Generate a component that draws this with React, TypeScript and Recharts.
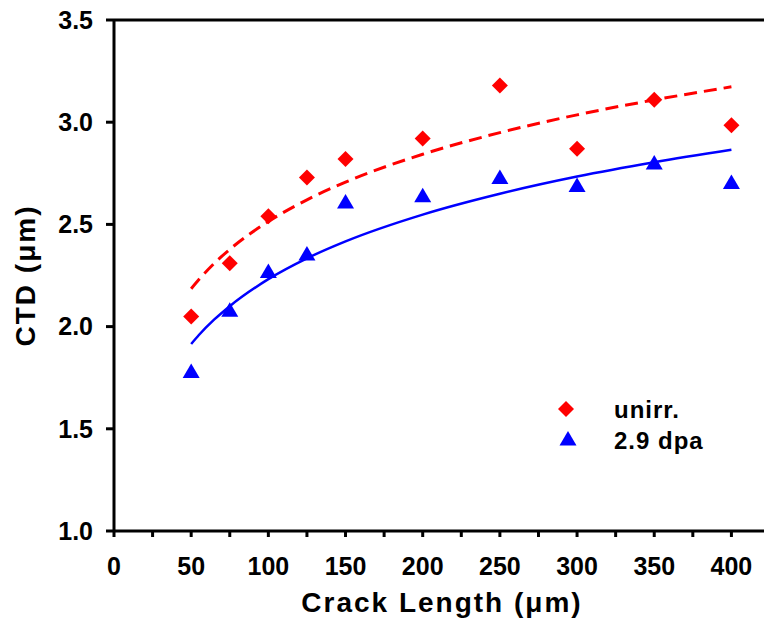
import React from 'react';
import {
  ComposedChart,
  XAxis,
  YAxis,
  Scatter,
  Line,
  ReferenceLine,
  Legend,
} from 'recharts';

// Measured points
const crackLength = [50, 75, 100, 125, 150, 200, 250, 300, 350, 400];
const ctdUnirr = [2.05, 2.31, 2.54, 2.73, 2.82, 2.92, 3.18, 2.87, 3.11, 2.985];
const ctdIrr = [1.78, 2.08, 2.27, 2.355, 2.61, 2.64, 2.73, 2.69, 2.8, 2.705];

// Fit curves
const fitX = [50, 55, 65, 75, 100, 125, 150, 200, 250, 300, 350, 400];
const fitUnirr = [2.185, 2.23, 2.31, 2.378, 2.514, 2.62, 2.707, 2.843, 2.949, 3.036, 3.109, 3.173];
const fitIrr = [1.915, 1.959, 2.035, 2.1, 2.232, 2.334, 2.417, 2.548, 2.65, 2.734, 2.804, 2.865];

const xTicks = [0, 25, 50, 75, 100, 125, 150, 175, 200, 225, 250, 275, 300, 325, 350, 375, 400];
const yTicks = [1.0, 1.5, 2.0, 2.5, 3.0, 3.5];

const seriesNames = ['unirr.', '2.9 dpa'];
const xTitle = 'Crack Length (\u03bcm)';
const yTitle = 'CTD (\u03bcm)';

const RED = '#ff0000';
const BLUE = '#0000ff';
const FONT = '"Liberation Sans", Arial, Helvetica, sans-serif';

const unirrData = crackLength.map((x, i) => ({ x, y: ctdUnirr[i] }));
const irrData = crackLength.map((x, i) => ({ x, y: ctdIrr[i] }));
const fitUnirrData = fitX.map((x, i) => ({ x, y: fitUnirr[i] }));
const fitIrrData = fitX.map((x, i) => ({ x, y: fitIrr[i] }));

const Diamond = (props: any) => {
  const { cx, cy } = props;
  const r = 8;
  return (
    <path
      d={`M${cx},${cy - r}L${cx + r},${cy}L${cx},${cy + r}L${cx - r},${cy}Z`}
      fill={RED}
    />
  );
};

const Triangle = (props: any) => {
  const { cx, cy } = props;
  return (
    <path
      d={`M${cx},${cy - 8}L${cx + 8.5},${cy + 6.5}L${cx - 8.5},${cy + 6.5}Z`}
      fill={BLUE}
    />
  );
};

const LegendBox = () => (
  <svg width={200} height={70} style={{ display: 'block' }}>
    <path d="M16,9L24,17L16,25L8,17Z" fill={RED} />
    <path d="M18,39L26.5,53.5L9.5,53.5Z" fill={BLUE} />
    <text x={64} y={26} fontFamily={FONT} fontWeight="bold" fontSize={24} letterSpacing={1} fill="#000">
      {seriesNames[0]}
    </text>
    <text x={64} y={57} fontFamily={FONT} fontWeight="bold" fontSize={24} letterSpacing={1} fill="#000">
      {seriesNames[1]}
    </text>
  </svg>
);

const YTitle = (props: any) => {
  const { viewBox } = props;
  const cy = viewBox.y + viewBox.height / 2;
  const x = 35;
  return (
    <text
      x={x}
      y={cy}
      transform={`rotate(-90 ${x} ${cy})`}
      textAnchor="middle"
      fontFamily={FONT}
      fontWeight="bold"
      fontSize={28}
      letterSpacing={2}
      fill="#000"
    >
      {yTitle}
    </text>
  );
};

const XTitle = (props: any) => {
  const { viewBox } = props;
  const cx = viewBox.x + viewBox.width / 2;
  return (
    <text
      x={cx}
      y={612}
      textAnchor="middle"
      fontFamily={FONT}
      fontWeight="bold"
      fontSize={28}
      letterSpacing={2}
      fill="#000"
    >
      {xTitle}
    </text>
  );
};

export default function App() {
  const tickStyle = { fontFamily: FONT, fontWeight: 'bold' as const, fontSize: 25, fill: '#000' };
  return (
    <div
      style={{
        position: 'absolute',
        left: 0,
        top: 0,
        width: 764,
        height: 621,
        overflow: 'hidden',
        background: '#fff',
      }}
    >
      <ComposedChart
        width={790}
        height={621}
        margin={{ top: 20, right: 20, bottom: 0, left: 0 }}
      >
        <XAxis
          type="number"
          dataKey="x"
          domain={[0, 425]}
          ticks={xTicks}
          interval={0}
          tickFormatter={(v: number) => (v % 50 === 0 ? String(v) : '')}
          height={90}
          tickSize={6}
          tickMargin={20}
          axisLine={{ stroke: '#000', strokeWidth: 3 }}
          tickLine={{ stroke: '#000', strokeWidth: 3 }}
          tick={tickStyle}
          allowDataOverflow
          label={<XTitle />}
        />
        <YAxis
          type="number"
          dataKey="y"
          domain={[1, 3.5]}
          ticks={yTicks}
          interval={0}
          tickFormatter={(v: number) => v.toFixed(1)}
          width={114}
          tickSize={8}
          tickMargin={13}
          axisLine={{ stroke: '#000', strokeWidth: 3 }}
          tickLine={{ stroke: '#000', strokeWidth: 3 }}
          tick={tickStyle}
          allowDataOverflow
          label={<YTitle />}
        />
        <ReferenceLine y={3.5} stroke="#000" strokeWidth={3} ifOverflow="visible" />
        <Line
          data={fitUnirrData}
          dataKey="y"
          type="monotone"
          stroke={RED}
          strokeWidth={3}
          strokeDasharray="13 7"
          dot={false}
          activeDot={false}
          isAnimationActive={false}
          legendType="none"
        />
        <Line
          data={fitIrrData}
          dataKey="y"
          type="monotone"
          stroke={BLUE}
          strokeWidth={2.5}
          dot={false}
          activeDot={false}
          isAnimationActive={false}
          legendType="none"
        />
        <Scatter
          name={seriesNames[0]}
          data={unirrData}
          dataKey="y"
          shape={<Diamond />}
          isAnimationActive={false}
        />
        <Scatter
          name={seriesNames[1]}
          data={irrData}
          dataKey="y"
          shape={<Triangle />}
          isAnimationActive={false}
        />
        <Legend
          layout="vertical"
          align="center"
          verticalAlign="middle"
          content={<LegendBox />}
          wrapperStyle={{ position: 'absolute', left: 550, top: 392, width: 200, height: 70 }}
        />
      </ComposedChart>
    </div>
  );
}
